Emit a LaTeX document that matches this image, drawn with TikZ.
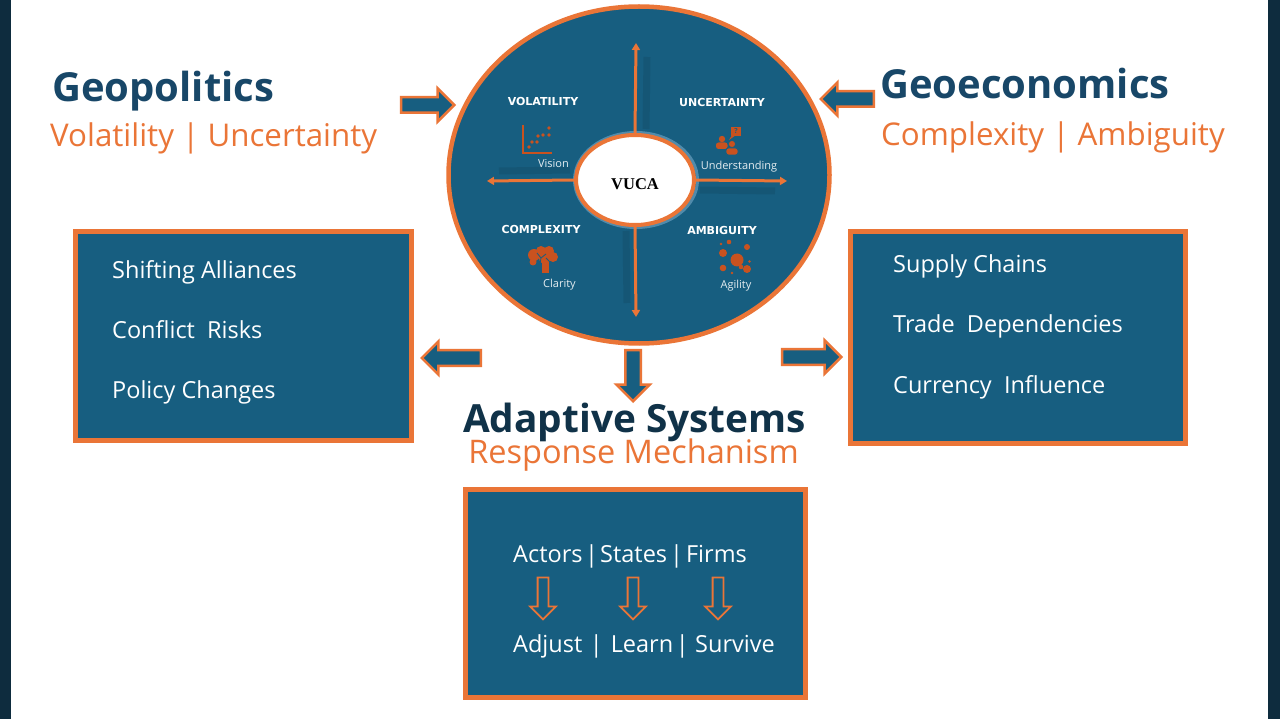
\documentclass[tikz,border=0pt]{standalone}
\usepackage{fontspec}
\setmainfont{Open Sans}
\newfontfamily\capsfont{DejaVu Sans}
\newfontfamily\vucafont{Liberation Serif}
\usetikzlibrary{arrows.meta,shapes.geometric,shapes.arrows}
\definecolor{vucablue}{RGB}{23,94,128}
\definecolor{vucaorange}{RGB}{234,117,55}
\definecolor{vucatitle}{RGB}{24,71,104}
\definecolor{vucadeep}{RGB}{16,50,72}
\definecolor{vucaband}{RGB}{14,44,62}
\definecolor{vucaicon}{RGB}{201,82,31}
\definecolor{vucasoft}{RGB}{228,236,240}
\definecolor{vucaglow}{RGB}{150,195,225}
\tikzset{
  panelbox/.style={rectangle, draw=vucaorange, fill=vucablue, line width=5pt, inner sep=0pt},
  blockarrow/.style={single arrow, draw=vucaorange, fill=vucablue, line width=2.5pt, inner sep=6.5pt,
    single arrow head extend=8.75pt, single arrow tip angle=90, minimum height=#1, anchor=tip},
  hollowarrow/.style={single arrow, draw=vucaorange, fill=vucablue, line width=1.8pt, inner sep=4.5pt,
    single arrow head extend=7.5pt, single arrow tip angle=90, minimum height=42pt, rotate=-90, anchor=tip},
  crossline/.style={vucaorange, line width=3pt, -{Triangle[length=7pt,width=8pt]}},
  crossshadow/.style={black, opacity=0.08, line width=7pt},
  boxtext/.style={anchor=base west, inner sep=0pt, text=white, font=\fontsize{23.5}{26}\selectfont},
  quadlabel/.style={inner sep=0pt, text=white, font=\capsfont\bfseries\fontsize{11}{12}\selectfont},
  iconlabel/.style={anchor=base, inner sep=0pt, text=vucasoft, font=\fontsize{11}{12}\selectfont},
  headline/.style={anchor=base west, inner sep=0pt, text=vucatitle, font=\bfseries\fontsize{40}{44}\selectfont},
  subline/.style={anchor=base west, inner sep=0pt, text=vucaorange, font=\fontsize{31.3}{34}\selectfont},
}
\newcommand{\barsep}[2]{\hspace{#1pt}|\hspace{#2pt}}
\begin{document}
\begin{tikzpicture}[x=1pt, y=-1pt]
		%%%%% START %%%%%
		\useasboundingbox (0,0) rectangle (1280,719);
		\fill[white] (0,0) rectangle (1280,719);
		\fill[vucaband] (0,0) rectangle (11,719);
		\fill[vucaband] (1268,0) rectangle (1280,719);
		
		\node[headline] (geopol) at (52,102) {Geopolitics};
		\node[subline] (geopolsub) at (50,147) {Volatility | Uncertainty};
		\node[headline] (geoecon) at (880,99) {Geoeconomics};
		\node[subline] (geoeconsub) at (881,146) {Complexity | Ambiguity};
		
		\node[ellipse, draw=vucaorange, fill=vucablue, line width=4.5pt, minimum width=381pt, minimum height=337pt] (vcircle) at (639,175) {};
		\draw[vucaglow, line width=3pt, opacity=0.45] (636,180) ellipse [x radius=61.5, y radius=47.5];
		\node[ellipse, draw=vucaorange, fill=white, line width=4pt, minimum width=118pt, minimum height=90pt, text height=20pt,
			font=\vucafont\bfseries\fontsize{16.5}{16}\selectfont] (vuca) at (635,180) {VUCA};
		
		\coordinate (vtop) at (636,43);
		\coordinate (vbottom) at (636,317);
		\coordinate (vleft) at (487,181);
		\coordinate (vright) at (787,181);
		\draw[crossshadow] ([xshift=11pt,yshift=4pt]vuca.north) -- ([xshift=11pt,yshift=-14pt]vtop);
		\draw[crossshadow] ([xshift=-4pt,yshift=10pt]vuca.west) -- ([xshift=12pt,yshift=10pt]vleft);
		\draw[crossshadow] ([xshift=4pt,yshift=-10pt]vuca.east) -- ([xshift=-12pt,yshift=-10pt]vright);
		\draw[crossshadow] ([xshift=-9pt,yshift=-4pt]vuca.south) -- ([xshift=-9pt,yshift=14pt]vbottom);
		\draw[crossline] (vuca.north) -- (vtop);
		\draw[crossline] (vuca.south) -- (vbottom);
		\draw[crossline] (vuca.west) -- (vleft);
		\draw[crossline] (vuca.east) -- (vright);
		
		\node[quadlabel] (volat) at (543,101) {VOLATILITY};
		\node[quadlabel] (uncert) at (722,102) {UNCERTAINTY};
		\node[quadlabel] (complex) at (541,229.5) {COMPLEXITY};
		\node[quadlabel] (ambig) at (722,230.5) {AMBIGUITY};
		\node[iconlabel] (vision) at (553.5,168) {Vision};
		\node[iconlabel] (underst) at (739,170) {Understanding};
		\node[iconlabel] (clarity) at (559.5,288) {Clarity};
		\node[iconlabel] (agility) at (736,289) {Agility};
		
		% scatter
		\draw[vucaicon, line width=1.8pt] (523,125) -- (523,153) -- (552,153);
		\foreach \dx/\dy in {549/128, 543/135, 549/135, 538/136, 537/142, 532/142, 529/147}
			\fill[vucaicon] (\dx,\dy) circle (1.8);
		% people
		\fill[vucaicon] (731,127) rectangle (741,136);
		\fill[vucaicon] (732,135) -- (729,140) -- (736,135) -- cycle;
		\node[inner sep=0pt, text=vucablue, font=\bfseries\fontsize{7}{7}\selectfont] (qmark) at (736,131.5) {?};
		\fill[vucaicon] (722,139) circle (3.2);
		\fill[vucaicon, rounded corners=2.5pt] (716,149) rectangle (727.5,142.5);
		\filldraw[vucaicon, draw=vucablue, line width=0.8pt] (732,144) circle (3.6);
		\filldraw[vucaicon, draw=vucablue, line width=0.8pt, rounded corners=2.5pt] (726,155) rectangle (738,148);
		% brain
		\foreach \bx/\by/\br in {534/255/6, 541/251/5, 549/251/5, 553/257/5, 545/258/6, 533/262/3.5}
			\fill[vucaicon] (\bx,\by) circle (\br);
		\fill[vucaicon] (542,262) rectangle (549,273);
		\draw[vucablue, line width=0.8pt] (537,253) -- (541,258) -- (546,254) (546,258) -- (550,262) (541,258) -- (540,264);
		% bubbles
		\foreach \bx/\by/\br in {737/260/6.5, 729/242/2.3, 747/247/3, 723/253/4, 723/268/3.3, 747/269/4, 749.5/261.5/1.3, 721/244/1.3, 732/273/1.3, 741/267/2.3}
			\fill[vucaicon] (\bx,\by) circle (\br);
		
		\node[panelbox, minimum width=336pt, minimum height=209pt] (politbox) at (243.5,336) {};
		\node[panelbox, minimum width=335pt, minimum height=212pt] (econbox) at (1018,337.5) {};
		\node[panelbox, minimum width=340pt, minimum height=208pt] (adaptbox) at (635.5,593.5) {};
		
		\node[boxtext] (alliance) at (112,279) {Shifting Alliances};
		\node[boxtext] (conflict) at (112,338) {Conflict~ Risks};
		\node[boxtext] (policy) at (112,398) {Policy Changes};
		\node[boxtext] (supply) at (893,273) {Supply Chains};
		\node[boxtext] (trade) at (893,333) {Trade~ Dependencies};
		\node[boxtext] (currency) at (893,393) {Currency~ Influence};
		\node[boxtext] (actors) at (513,562) {Actors\barsep{2.5}{2.2}States\barsep{3}{3}Firms};
		\node[boxtext] (adjust) at (513,652) {Adjust\barsep{7.5}{8}Learn\barsep{2.5}{6.5}Survive};
		
		\node[blockarrow=53pt] (polarrow) at (456,105) {};
		\node[blockarrow=53pt, rotate=180] (econarrow) at (819,99) {};
		\node[blockarrow=59pt, rotate=180] (politarrow) at (420,358) {};
		\node[blockarrow=59pt] (tradearrow) at (843,357) {};
		\node[blockarrow=51pt, rotate=-90] (adaptarrow) at (633,403) {};
		\foreach \ax [count=\i] in {543,633,718}
			\node[hollowarrow] (step\i) at (\ax,620.7) {};
		
		\node[anchor=base, inner sep=0pt, text=vucadeep, font=\bfseries\fontsize{38.8}{42}\selectfont] (adapt) at (634.5,432) {Adaptive Systems};
		\node[anchor=base, inner sep=0pt, text=vucaorange, font=\fontsize{32.5}{35}\selectfont] (response) at (633.5,463) {Response Mechanism};
		%%%%% END %%%%%
\end{tikzpicture}
\end{document}
